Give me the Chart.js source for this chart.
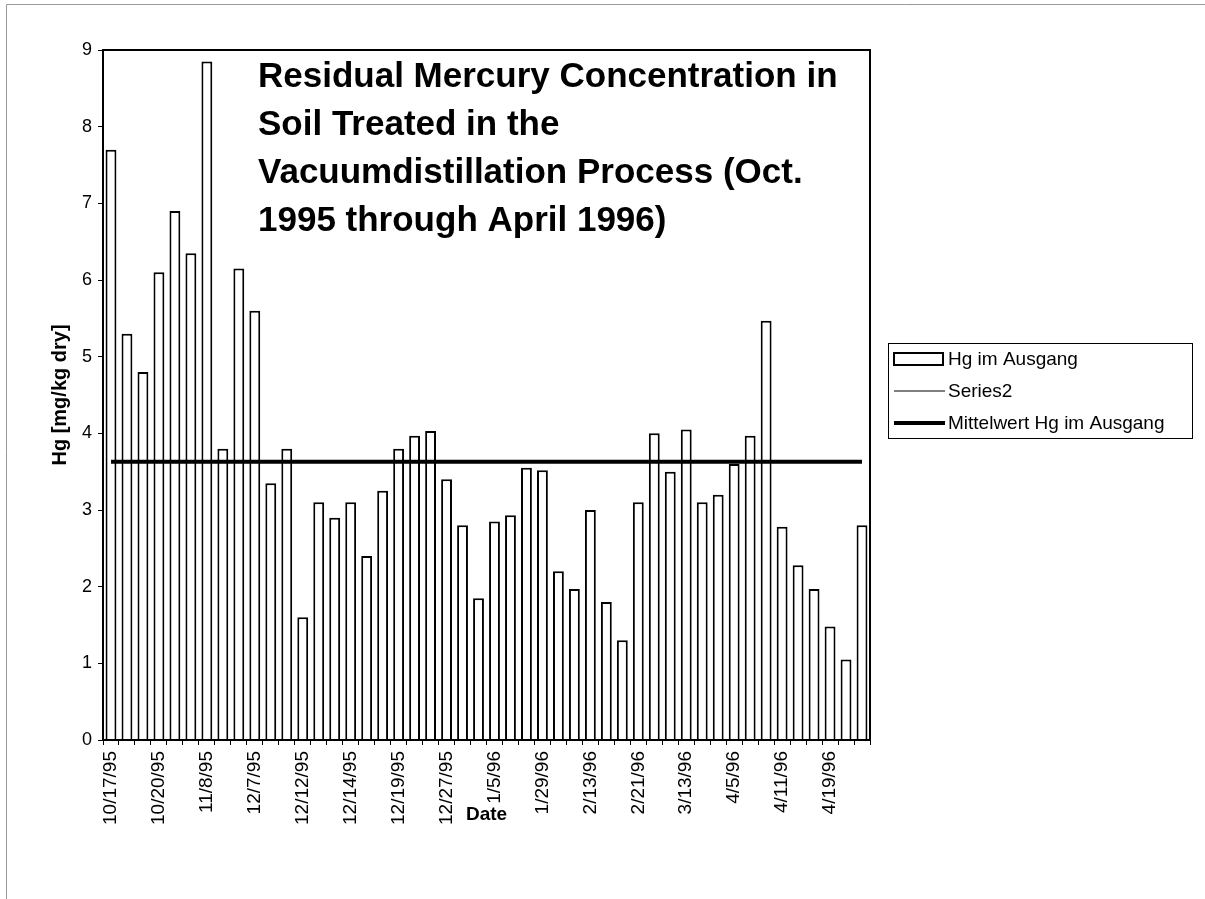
<!DOCTYPE html>
<html>
<head>
<meta charset="utf-8">
<script src="https://cdn.jsdelivr.net/npm/chart.js@4.4.0/dist/chart.umd.min.js"></script>
<style>
  body { margin: 0; background: #fff; }
  canvas { display: block; }
</style>
</head>
<body>
<canvas id="hgchart" width="1205" height="899"></canvas>
<script>
// tick labels shown under every third bar
var tickLabels = ['10/17/95', '10/20/95', '11/8/95', '12/7/95', '12/12/95', '12/14/95', '12/19/95', '12/27/95',
                  '1/5/96', '1/29/96', '2/13/96', '2/21/96', '3/13/96', '4/5/96', '4/11/96', '4/19/96'];
var hgOut = [7.7, 5.3, 4.8, 6.1, 6.9, 6.35, 8.85, 3.8, 6.15, 5.6, 3.35, 3.8,
             1.6, 3.1, 2.9, 3.1, 2.4, 3.25, 3.8, 3.97, 4.03, 3.4, 2.8, 1.85,
             2.85, 2.93, 3.55, 3.52, 2.2, 1.97, 3.0, 1.8, 1.3, 3.1, 4.0, 3.5,
             4.05, 3.1, 3.2, 3.6, 3.97, 5.47, 2.78, 2.28, 1.97, 1.48, 1.05, 2.8];
var meanHg = [3.63, 3.63, 3.63, 3.63, 3.63, 3.63, 3.63, 3.63, 3.63, 3.63, 3.63, 3.63,
              3.63, 3.63, 3.63, 3.63, 3.63, 3.63, 3.63, 3.63, 3.63, 3.63, 3.63, 3.63,
              3.63, 3.63, 3.63, 3.63, 3.63, 3.63, 3.63, 3.63, 3.63, 3.63, 3.63, 3.63,
              3.63, 3.63, 3.63, 3.63, 3.63, 3.63, 3.63, 3.63, 3.63, 3.63, 3.63, 3.63];
var series2 = [];
var titleLines = ['Residual Mercury Concentration in', 'Soil Treated in the',
                  'Vacuumdistillation Process (Oct.', '1995 through April 1996)'];

var categories = [];
for (var k = 0; k < hgOut.length; k++) {
    categories.push(k % 3 == 0 ? tickLabels[k / 3] : '');
}

var FONT = "'Liberation Sans', Arial, sans-serif";

var decor = {
    id: 'decor',
    beforeDraw: function(chart) {
        var c = chart.ctx;
        c.save();
        c.fillStyle = '#fff';
        c.fillRect(0, 0, chart.width, chart.height);
        c.strokeStyle = '#999';
        c.lineWidth = 1;
        c.beginPath();
        c.moveTo(6.5, 899);
        c.lineTo(6.5, 4.5);
        c.lineTo(1205, 4.5);
        c.stroke();
        c.restore();
    },
    afterDraw: function(chart) {
        var c = chart.ctx;
        var a = chart.chartArea;
        c.save();
        // plot frame
        c.strokeStyle = '#000';
        c.lineWidth = 2;
        c.strokeRect(a.left, a.top, a.right - a.left, a.bottom - a.top);

        // title inside plot
        c.fillStyle = '#000';
        c.font = 'bold 35px ' + FONT;
        c.textBaseline = 'middle';
        c.textAlign = 'left';
        for (var i = 0; i < titleLines.length; i++) {
            c.fillText(titleLines[i], 258, 77 + i * 48);
        }

        // legend
        var lx = 888, ly = 343, lw = 304, lh = 95;
        c.lineWidth = 1;
        c.strokeStyle = '#000';
        c.strokeRect(lx + 0.5, ly + 0.5, lw, lh);
        c.font = '19px ' + FONT;
        var ds = chart.data.datasets;
        var rows = [359, 391, 423];
        for (var j = 0; j < ds.length; j++) {
            var y = rows[j];
            if (ds[j].type == 'bar' || !ds[j].type) {
                c.fillStyle = ds[j].backgroundColor;
                c.lineWidth = 2;
                c.strokeStyle = ds[j].borderColor;
                c.fillRect(894, y - 6, 49, 12);
                c.strokeRect(894, y - 6, 49, 12);
            } else {
                c.lineWidth = ds[j].borderWidth;
                c.strokeStyle = ds[j].borderColor;
                c.beginPath();
                c.moveTo(894, y);
                c.lineTo(945, y);
                c.stroke();
            }
            c.fillStyle = '#000';
            c.fillText(ds[j].label, 948, y + 1);
        }
        c.restore();
    }
};

var ctx = document.getElementById('hgchart').getContext('2d');
var chart = new Chart(ctx, {
    data: {
        labels: categories,
        datasets: [{
            type: 'bar',
            label: 'Hg im Ausgang',
            data: hgOut,
            backgroundColor: '#ffffff',
            borderColor: '#000000',
            borderWidth: 2,
            barPercentage: 0.68,
            categoryPercentage: 1,
            order: 2
        }, {
            type: 'line',
            label: 'Series2',
            data: series2,
            borderColor: '#000000',
            borderWidth: 1,
            pointRadius: 0,
            fill: false,
            order: 1
        }, {
            type: 'line',
            label: 'Mittelwert Hg im Ausgang',
            data: meanHg,
            borderColor: '#000000',
            borderWidth: 4,
            pointRadius: 0,
            fill: false,
            order: 0
        }]
    },
    options: {
        responsive: false,
        animation: false,
        layout: {
            padding: { left: 48, top: 50, right: 335, bottom: 59 }
        },
        plugins: {
            legend: { display: false },
            title: { display: false },
            tooltip: { enabled: false }
        },
        scales: {
            x: {
                offset: true,
                grid: { display: true, drawOnChartArea: false, tickLength: 5, color: '#000', lineWidth: 1 },
                border: { display: true, color: '#000', width: 2 },
                ticks: {
                    autoSkip: false,
                    minRotation: 90,
                    maxRotation: 90,
                    color: '#000',
                    font: { family: FONT, size: 19 },
                    padding: 6
                },
                title: {
                    display: true,
                    text: 'Date',
                    color: '#000',
                    font: { family: FONT, size: 19, weight: 'bold' },
                    padding: { top: 0, bottom: 14 }
                },
                afterFit: function(s) { s.height = 100; }
            },
            y: {
                min: 0,
                max: 9,
                ticks: {
                    stepSize: 1,
                    color: '#000',
                    font: { family: FONT, size: 18 },
                    padding: 6
                },
                grid: { display: true, drawOnChartArea: false, tickLength: 5, color: '#000', lineWidth: 1 },
                border: { display: true, color: '#000', width: 2 },
                title: {
                    display: true,
                    text: 'Hg [mg/kg dry]',
                    color: '#000',
                    font: { family: FONT, size: 20, weight: 'bold' },
                    padding: 0
                },
                afterFit: function(s) { s.width = 55; }
            }
        }
    },
    plugins: [decor]
});
</script>
</body>
</html>
